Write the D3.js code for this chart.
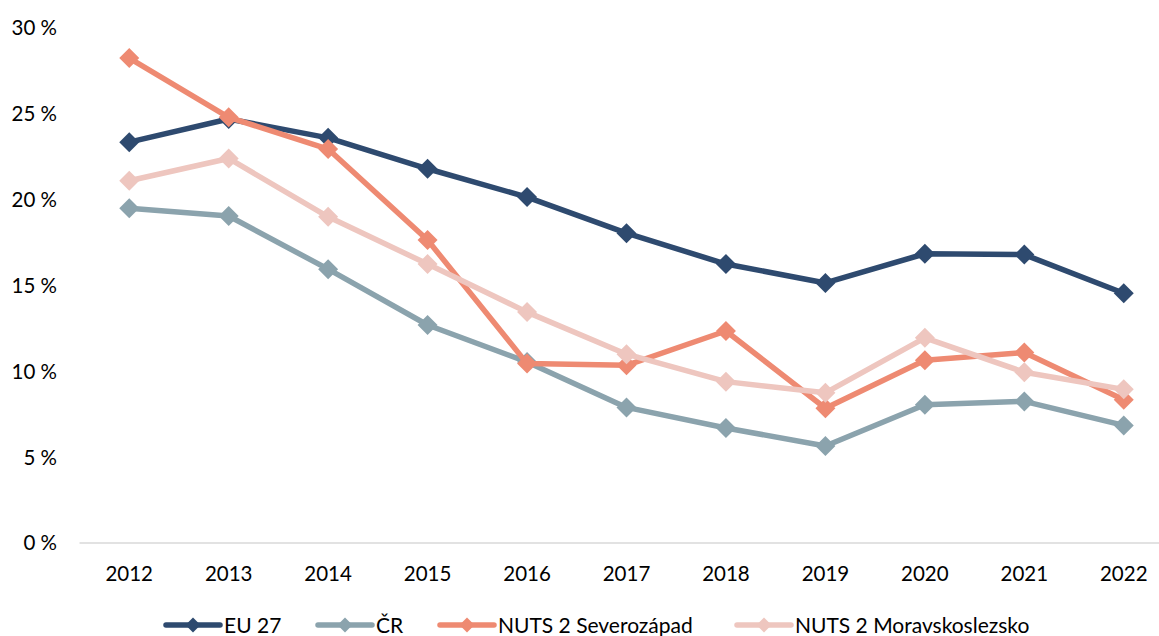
<!DOCTYPE html>
<html>
<head>
<meta charset="utf-8">
<script src="https://cdn.jsdelivr.net/npm/d3@7"></script>
<style>
  body { margin: 0; background: #fff; overflow: hidden; }
  text { font-family: Lato, "Open Sans", sans-serif; fill: #000; }
</style>
</head>
<body>
<div id="chart"></div>
<script>
// Data --------------------------------------------------
const years = ["2012","2013","2014","2015","2016","2017","2018","2019","2020","2021","2022"];
const eu27 = [23.35, 24.7, 23.6, 21.8, 20.15, 18.05, 16.25, 15.15, 16.85, 16.8, 14.55];
const cr = [19.5, 19.05, 15.95, 12.7, 10.55, 7.9, 6.7, 5.65, 8.05, 8.25, 6.85];
const severozapad = [28.25, 24.8, 22.95, 17.65, 10.45, 10.35, 12.35, 7.85, 10.65, 11.1, 8.35];
const moravskoslezsko = [21.1, 22.4, 19.0, 16.25, 13.45, 11.0, 9.4, 8.75, 11.95, 9.95, 8.95];
const seriesNames = ["EU 27", "ČR", "NUTS 2 Severozápad", "NUTS 2 Moravskoslezsko"];
const yTicks = [0, 5, 10, 15, 20, 25, 30];

const colors = ["#2E4A6F", "#8BA3AD", "#EE8A72", "#EEC6BF"];
const series = [eu27, cr, severozapad, moravskoslezsko].map((v, i) => ({name: seriesNames[i], values: v, color: colors[i]}));

// Layout ------------------------------------------------
const width = 1159, height = 636;
const plot = {left: 79.5, right: 1173.5, top: 28, bottom: 543};

const svg = d3.select("#chart").append("svg")
    .attr("width", width)
    .attr("height", height);

const x = d3.scalePoint().domain(years).range([plot.left, plot.right]).padding(0.5);
const y = d3.scaleLinear().domain([0, 30]).range([plot.bottom, plot.top]);

// y labels (no gridlines)
svg.append("g").selectAll("text")
    .data(yTicks)
    .join("text")
    .attr("x", 57)
    .attr("y", d => y(d))
    .attr("dy", "0.36em")
    .attr("text-anchor", "end")
    .attr("font-size", 20.5)
    .text(d => d + " %");

// x axis line
svg.append("line")
    .attr("x1", plot.left).attr("x2", plot.right)
    .attr("y1", y(0)).attr("y2", y(0))
    .attr("stroke", "#D9D9D9")
    .attr("stroke-width", 1.5);

// x labels
svg.append("g").selectAll("text")
    .data(years)
    .join("text")
    .attr("x", d => x(d))
    .attr("y", 574)
    .attr("dy", "0.36em")
    .attr("text-anchor", "middle")
    .attr("font-size", 20.5)
    .text(d => d);

const diamond = r => `M0,${-r}L${r},0L0,${r}L${-r},0Z`;
const line = d3.line().x((d, i) => x(years[i])).y(d => y(d));

// Lines + markers
series.forEach(s => {
    const g = svg.append("g");
    g.append("path")
        .attr("d", line(s.values))
        .attr("fill", "none")
        .attr("stroke", s.color)
        .attr("stroke-width", 5.5)
        .attr("stroke-linejoin", "round");
    g.selectAll("path.m")
        .data(s.values)
        .join("path")
        .attr("class", "m")
        .attr("d", diamond(10))
        .attr("transform", (d, i) => `translate(${x(years[i])},${y(d)})`)
        .attr("fill", s.color);
});

// Legend
const legendX = [166, 318, 440, 737];
const legend = svg.append("g");
series.forEach((s, i) => {
    const g = legend.append("g").attr("transform", `translate(${legendX[i]},625)`);
    g.append("line")
        .attr("x1", 0).attr("x2", 54)
        .attr("stroke", s.color)
        .attr("stroke-width", 5.5)
        .attr("stroke-linecap", "round");
    g.append("path")
        .attr("d", diamond(7.5))
        .attr("transform", "translate(27,0)")
        .attr("fill", s.color);
    g.append("text")
        .attr("x", 58)
        .attr("dy", "0.36em")
        .attr("font-size", 21)
        .text(s.name);
});
</script>
</body>
</html>
